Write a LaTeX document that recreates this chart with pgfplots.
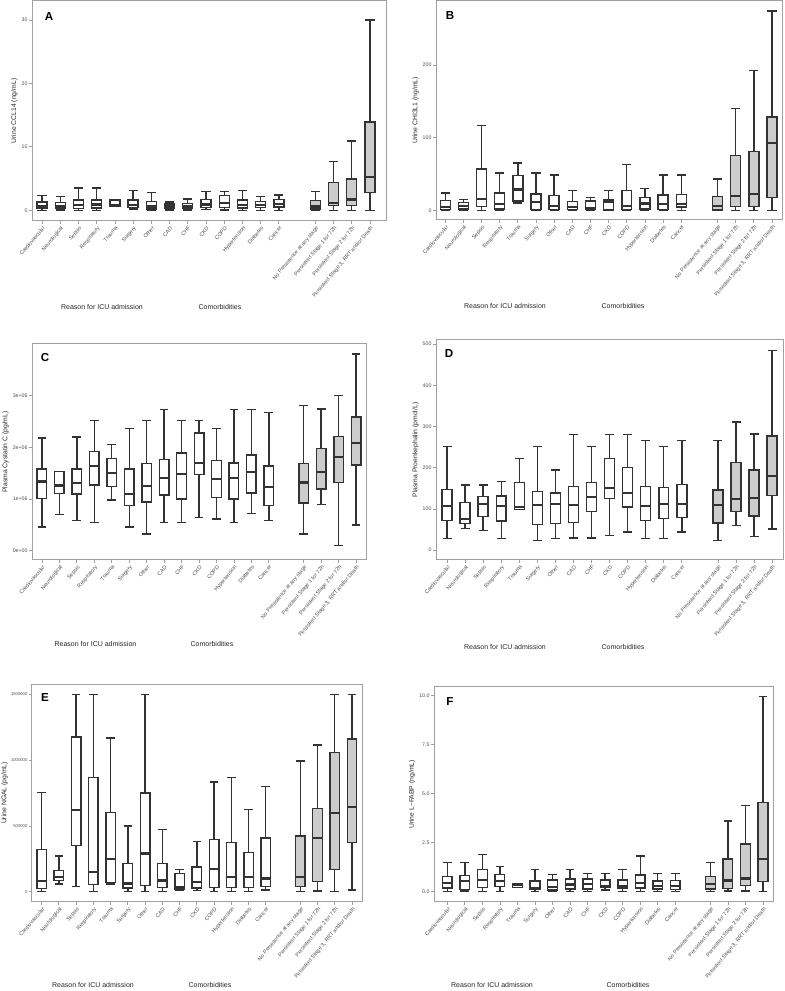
\documentclass[border=0pt]{standalone}
\usepackage{fontspec}
\setmainfont{Liberation Sans}
\usepackage{pgfplots}
\pgfplotsset{compat=1.18}
\usepgfplotslibrary{statistics}

\definecolor{boxline}{HTML}{333333}
\definecolor{boxgray}{HTML}{CCCCCC}
\definecolor{framegray}{HTML}{A0A0A0}
\definecolor{ticktext}{HTML}{4D4D4D}

\pgfplotsset{
  panel/.style={
    scale only axis, anchor=south west,
    axis line style={framegray, line width=0.5pt},
    xtick={1,2,3,4,5,6,7,8,9,10,11,12,13,14,16,17,18,19},
    xticklabels={Cardiovascular,Neurological,Sepsis,Respiratory,Trauma,Surgery,Other,CAD,CHF,CKD,COPD,Hypertension,Diabetes,Cancer,No Persistence at any stage,Persistent Stage 1 for 72h,Persistent Stage 2 for 72h,{Persistent Stage 3, RRT and/or Death}},
    xticklabel style={font=\fontsize{2.7}{3}\selectfont, rotate=50, anchor=north east, inner sep=0.6pt, text=ticktext},
    yticklabel style={font=\fontsize{2.6}{3}\selectfont, text=ticktext, inner sep=0.8pt},
    ylabel style={font=\fontsize{3.4}{4}\selectfont, text=black!85, inner sep=1pt},
    tick align=outside, major tick length=1.3pt,
    tick style={framegray, line width=0.4pt},
    xtick pos=bottom, ytick pos=left,
    scaled y ticks=false,
    /pgf/number format/assume math mode=true,
    boxplot/draw direction=y,
    boxplot/box extend=0.55,
    boxplot/whisker extend=0.5,
    boxplot/every median/.style={line width=1.1pt},
  },
}
% position, lower whisker, lower quartile, median, upper quartile, upper whisker
\newcommand{\bw}[6]{\addplot[draw=boxline, line width=0.7pt, fill=white,
  boxplot prepared={draw position=#1, lower whisker=#2, lower quartile=#3,
  median=#4, upper quartile=#5, upper whisker=#6}] coordinates {};}
\newcommand{\bg}[6]{\addplot[draw=boxline, line width=0.7pt, fill=boxgray,
  boxplot prepared={draw position=#1, lower whisker=#2, lower quartile=#3,
  median=#4, upper quartile=#5, upper whisker=#6}] coordinates {};}

\begin{document}
\begin{tikzpicture}
\useasboundingbox (0,0) rectangle (392pt,495.5pt);

% ---------- A ----------
\begin{axis}[panel, at={(16pt,385pt)}, width=177pt, height=110pt,
  xmin=0.45, xmax=19.88, ymin=-1.69, ymax=33,
  ytick={0,10,20,30}, ylabel={Urine CCL14 (ng/mL)}]
\bw{1}{0}{0.3}{0.6}{1.3}{2.3}
\bw{2}{0.05}{0.35}{0.7}{1.2}{2.2}
\bw{3}{0}{0.3}{0.8}{1.6}{3.5}
\bw{4}{0}{0.35}{0.9}{1.6}{3.5}
\bw{5}{0.6}{0.6}{0.8}{1.6}{1.6}
\bw{6}{0.2}{0.4}{0.8}{1.6}{3.1}
\bw{7}{0}{0.2}{0.6}{1.4}{2.8}
\bw{8}{0.05}{0.35}{0.6}{1.0}{1.3}
\bw{9}{0.05}{0.3}{0.6}{1.1}{1.8}
\bw{10}{0.1}{0.4}{0.9}{1.7}{3.0}
\bw{11}{0.05}{0.4}{1.2}{2.3}{3.0}
\bw{12}{0}{0.35}{0.8}{1.6}{3.1}
\bw{13}{0}{0.4}{0.8}{1.4}{2.2}
\bw{14}{0}{0.5}{1.0}{1.7}{2.4}
\bg{16}{0}{0.2}{0.6}{1.5}{3.0}
\bg{17}{0}{0.8}{1.2}{4.4}{7.7}
\bg{18}{0}{0.8}{1.7}{4.9}{10.9}
\bg{19}{0}{2.8}{5.2}{13.9}{30}
\end{axis}

% ---------- B ----------
\begin{axis}[panel, at={(218pt,385.5pt)}, width=173pt, height=109.5pt,
  xmin=0.49, xmax=19.55, ymin=-13.4, ymax=288,
  ytick={0,100,200}, ylabel={Urine CHI3L1 (ng/mL)}]
\bw{1}{0}{1}{4.6}{13.8}{23.9}
\bw{2}{0}{2}{6.4}{11}{15}
\bw{3}{0}{5}{16}{57}{117}
\bw{4}{0}{2}{9}{24}{51}
\bw{5}{10}{13}{28.5}{48}{65}
\bw{6}{0}{1}{11}{22.5}{51}
\bw{7}{0}{1.4}{6.4}{20.6}{48.6}
\bw{8}{0}{1.4}{4.6}{12.4}{27.5}
\bw{9}{0}{1}{2.8}{12.8}{17.4}
\bw{10}{0}{0.5}{11}{14.2}{27.5}
\bw{11}{0}{1}{6.4}{27}{63}
\bw{12}{0}{2}{9.2}{17.9}{29.8}
\bw{13}{0}{1.4}{8.3}{21}{48.6}
\bw{14}{0}{4.6}{8.7}{22}{48.6}
\bg{16}{0}{0.5}{6.4}{18.8}{43}
\bg{17}{0}{5}{20}{75.7}{140}
\bg{18}{0}{5.5}{22}{81}{192.7}
\bg{19}{0}{17.4}{92.2}{128.4}{274}
\end{axis}

% ---------- C (values in units of 10^6 pg/mL) ----------
\begin{axis}[panel, at={(16pt,215.5pt)}, width=167pt, height=108pt,
  xmin=0.43, xmax=19.57, ymin=-0.18, ymax=4.0,
  ytick={0,1,2,3}, yticklabels={0e+00,1e+06,2e+06,3e+06},
  ylabel={Plasma Cystatin C (pg/mL)}]
\bw{1}{0.46}{1.01}{1.34}{1.58}{2.18}
\bw{2}{0.70}{1.11}{1.26}{1.53}{1.53}
\bw{3}{0.58}{1.10}{1.31}{1.58}{2.20}
\bw{4}{0.54}{1.27}{1.64}{1.92}{2.52}
\bw{5}{0.98}{1.24}{1.51}{1.78}{2.06}
\bw{6}{0.46}{0.87}{1.09}{1.58}{2.37}
\bw{7}{0.32}{0.94}{1.25}{1.69}{2.52}
\bw{8}{0.55}{1.08}{1.40}{1.76}{2.73}
\bw{9}{0.55}{1.00}{1.49}{1.89}{2.52}
\bw{10}{0.64}{1.48}{1.69}{2.28}{2.52}
\bw{11}{0.61}{1.03}{1.38}{1.75}{2.36}
\bw{12}{0.55}{1.00}{1.40}{1.70}{2.73}
\bw{13}{0.72}{1.12}{1.52}{1.85}{2.73}
\bw{14}{0.58}{0.88}{1.23}{1.64}{2.67}
\bg{16}{0.32}{0.92}{1.32}{1.69}{2.81}
\bg{17}{0.89}{1.19}{1.52}{1.98}{2.74}
\bg{18}{0.10}{1.32}{1.81}{2.21}{3.00}
\bg{19}{0.50}{1.66}{2.08}{2.59}{3.81}
\end{axis}

% ---------- D ----------
\begin{axis}[panel, at={(218pt,215.5pt)}, width=173.5pt, height=110pt,
  xmin=0.39, xmax=19.6, ymin=-24, ymax=510,
  ytick={0,100,200,300,400,500}, ylabel={Plasma Proenkephalin (pmol/L)}]
\bw{1}{28}{72}{107}{147}{251}
\bw{2}{53}{65}{76}{116}{158}
\bw{3}{48}{81}{111}{130}{158}
\bw{4}{27.5}{71}{108}{131}{167}
\bw{5}{99}{99}{104}{164}{222}
\bw{6}{24}{62}{110}{142}{251}
\bw{7}{27.5}{64}{112}{139}{194}
\bw{8}{29}{67}{110}{154}{281}
\bw{9}{29}{93}{129}{164}{251}
\bw{10}{35}{125}{151}{222}{281}
\bw{11}{44}{105}{138}{201}{281}
\bw{12}{27.5}{72}{108}{154}{266}
\bw{13}{27.5}{76}{111}{152}{251}
\bw{14}{44}{79}{112}{159}{266}
\bg{16}{24}{66}{110}{146}{266}
\bg{17}{60}{94}{124}{212}{311}
\bg{18}{33}{83}{127}{194}{282}
\bg{19}{51}{133}{180}{277}{484}
\end{axis}

% ---------- E (values in units of 1000 pg/mL) ----------
\begin{axis}[panel, at={(16pt,44.5pt)}, width=165pt, height=109pt,
  xmin=0.44, xmax=19.58, ymin=-78, ymax=1578,
  ytick={0,500,1000,1500}, yticklabels={0,500000,1000000,1500000},
  yticklabel style={font=\fontsize{2.1}{2.5}\selectfont},
  ylabel style={inner sep=0.6pt},
  ylabel={Urine NGAL (pg/mL)}]
\bw{1}{0}{25}{79}{322}{755}
\bw{2}{58}{84}{112}{160}{271}
\bw{3}{41}{352}{621}{1176}{1500}
\bw{4}{0}{56}{152}{869}{1500}
\bw{5}{58}{71}{248}{600}{1168}
\bw{6}{0}{28}{63}{213}{499}
\bw{7}{0}{46}{291}{750}{1500}
\bw{8}{0}{30}{86}{215}{474}
\bw{9}{8}{20}{35}{137}{167}
\bw{10}{8}{28}{73}{188}{383}
\bw{11}{0}{33}{170}{398}{834}
\bw{12}{0}{33}{114}{372}{869}
\bw{13}{0}{33}{109}{296}{626}
\bw{14}{13}{38}{101}{408}{801}
\bg{16}{0}{38}{114}{423}{993}
\bg{17}{5}{76}{406}{634}{1115}
\bg{18}{0}{170}{600}{1059}{1500}
\bg{19}{13}{375}{644}{1160}{1500}
\end{axis}

% ---------- F ----------
\begin{axis}[panel, at={(217pt,44.5pt)}, width=169.5pt, height=107.5pt,
  xmin=0.24, xmax=19.57, ymin=-0.52, ymax=10.44,
  ytick={0,2.5,5,7.5,10}, yticklabels={0.0,2.5,5.0,7.5,10.0},
  ylabel={Urine L−FABP (ng/mL)}]
\bw{1}{0}{0.19}{0.43}{0.77}{1.48}
\bw{2}{0.05}{0.12}{0.56}{0.83}{1.48}
\bw{3}{0}{0.22}{0.6}{1.14}{1.9}
\bw{4}{0}{0.26}{0.56}{0.88}{1.29}
\bw{5}{0.22}{0.22}{0.33}{0.43}{0.43}
\bw{6}{0}{0.12}{0.2}{0.56}{1.14}
\bw{7}{0}{0.09}{0.26}{0.61}{0.88}
\bw{8}{0}{0.15}{0.37}{0.65}{1.14}
\bw{9}{0}{0.15}{0.41}{0.65}{0.94}
\bw{10}{0.09}{0.22}{0.31}{0.61}{0.94}
\bw{11}{0}{0.19}{0.27}{0.61}{1.14}
\bw{12}{0}{0.19}{0.43}{0.85}{1.82}
\bw{13}{0}{0.15}{0.31}{0.56}{0.94}
\bw{14}{0}{0.12}{0.29}{0.58}{0.94}
\bg{16}{0}{0.15}{0.41}{0.78}{1.48}
\bg{17}{0.05}{0.17}{0.58}{1.68}{3.6}
\bg{18}{0.05}{0.31}{0.68}{2.43}{4.39}
\bg{19}{0.02}{0.53}{1.67}{4.54}{9.95}
\end{axis}

% panel letters and group captions, placed in reference pixel units
\begin{scope}[x=0.5pt, y=-0.5pt, yshift=495.5pt,
  every node/.style={font=\fontsize{3.5}{4}\selectfont, text=black!85, inner sep=0pt}]
\node[font=\bfseries\fontsize{5.8}{6}\selectfont, text=black] at (49,17) {A};
\node[font=\bfseries\fontsize{5.8}{6}\selectfont, text=black] at (450,16) {B};
\node[font=\bfseries\fontsize{5.8}{6}\selectfont, text=black] at (45,358) {C};
\node[font=\bfseries\fontsize{5.8}{6}\selectfont, text=black] at (449,354) {D};
\node[font=\bfseries\fontsize{5.8}{6}\selectfont, text=black] at (45,698) {E};
\node[font=\bfseries\fontsize{5.8}{6}\selectfont, text=black] at (450,702) {F};
\node at (102,307) {Reason for ICU admission};
\node at (220,307) {Comorbidities};
\node at (505,306) {Reason for ICU admission};
\node at (623,306) {Comorbidities};
\node at (95.5,644) {Reason for ICU admission};
\node at (212,644) {Comorbidities};
\node at (505,647) {Reason for ICU admission};
\node at (623,647) {Comorbidities};
\node at (93,985) {Reason for ICU admission};
\node at (210,985) {Comorbidities};
\node at (492,985) {Reason for ICU admission};
\node at (628,985) {Comorbidities};
\end{scope}
\end{tikzpicture}
\end{document}
